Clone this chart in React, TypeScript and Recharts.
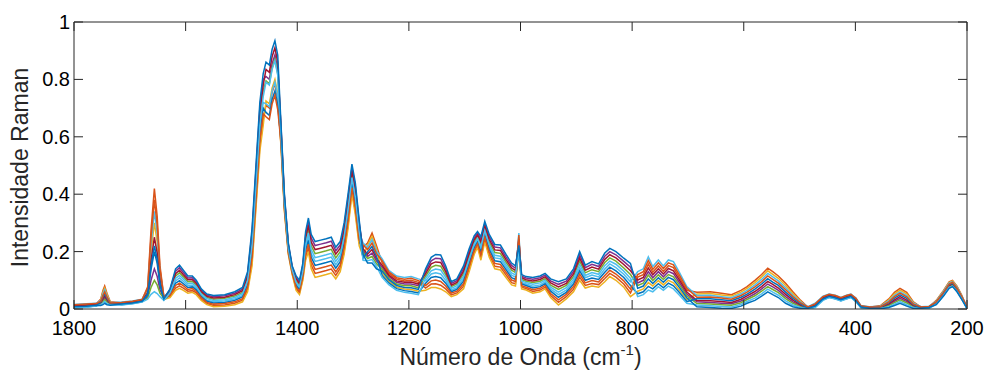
import React from 'react';
import { LineChart, Line, XAxis, YAxis, ReferenceLine } from 'recharts';

// Raman shift (cm^-1), descending as in the figure
const WAVENUMBER = [
  1800, 1778, 1760, 1752, 1748, 1745, 1741, 1735, 1715, 1695,
  1678, 1668, 1662, 1656, 1651, 1646, 1639, 1628, 1618, 1611,
  1604, 1596, 1588, 1581, 1572, 1562, 1550, 1530, 1512, 1498,
  1489, 1481, 1474, 1467, 1461, 1456, 1450, 1445, 1440, 1435,
  1429, 1423, 1416, 1409, 1402, 1396, 1390, 1385, 1380, 1375,
  1368, 1358, 1348, 1339, 1331, 1323, 1316, 1309, 1302, 1296,
  1289, 1282, 1274, 1266, 1258, 1248, 1236, 1222, 1208, 1196,
  1183, 1170, 1160, 1152, 1143, 1134, 1124, 1114, 1102, 1092,
  1083, 1077, 1071, 1064, 1056, 1046, 1036, 1026, 1016, 1009,
  1003, 998, 990, 978, 965, 956, 946, 932, 918, 905,
  894, 884, 872, 860, 849, 840, 829, 815, 803, 790,
  780, 771, 763, 753, 744, 735, 726, 716, 702, 684,
  660, 640, 622, 605, 594, 580, 568, 557, 548, 538,
  525, 512, 498, 485, 472, 458, 447, 436, 426, 416,
  408, 399, 390, 375, 355, 340, 330, 320, 308, 296,
  282, 268, 255, 242, 232, 226, 218, 210, 200,
];

const S1 = [
  .013, .015, .018, .035, .065, .080, .055, .025, .022, .026,
  .032, .077, .274, .42, .324, .151, .042, .043, .073, .081,
  .073, .062, .064, .056, .034, .019, .012, .014, .020, .031,
  .068, .164, .367, .569, .660, .71, .70, .755, .785, .735,
  .569, .347, .194, .123, .071, .056, .107, .181, .213, .153,
  .124, .129, .134, .139, .117, .142, .202, .293, .412, .342,
  .230, .217, .230, .265, .220, .161, .124, .104, .098, .100,
  .093, .073, .087, .088, .083, .070, .049, .056, .079, .139,
  .197, .221, .179, .242, .189, .149, .146, .119, .092, .088,
  .251, .076, .071, .061, .066, .076, .047, .023, .043, .069,
  .111, .082, .089, .085, .106, .124, .111, .087, .056, .111,
  .120, .156, .128, .150, .131, .151, .144, .112, .065, .058,
  .060, .055, .050, .065, .078, .100, .120, .142, .130, .115,
  .090, .060, .030, .006, .017, .042, .049, .045, .037, .045,
  .049, .035, .010, .006, .012, .035, .058, .072, .058, .025,
  .006, .008, .030, .065, .095, .100, .080, .050, .006,
];
const S2 = [
  .007, .009, .012, .032, .059, .073, .051, .024, .016, .020,
  .026, .062, .199, .30, .234, .115, .033, .040, .065, .072,
  .065, .055, .058, .050, .030, .015, .008, .010, .015, .025,
  .060, .150, .350, .550, .640, .725, .715, .77, .80, .75,
  .560, .340, .190, .120, .065, .050, .100, .170, .200, .140,
  .110, .115, .120, .125, .105, .130, .190, .280, .400, .330,
  .220, .183, .222, .253, .211, .124, .096, .076, .070, .068,
  .062, .065, .075, .075, .070, .060, .043, .050, .070, .130,
  .190, .215, .170, .234, .180, .140, .136, .110, .084, .080,
  .214, .070, .066, .055, .060, .070, .040, .014, .035, .060,
  .100, .073, .080, .076, .095, .113, .100, .076, .043, .062,
  .070, .092, .080, .099, .084, .100, .091, .068, .033, .052,
  .054, .049, .045, .059, .072, .092, .112, .133, .121, .107,
  .082, .054, .027, .002, .008, .033, .043, .038, .031, .038,
  .043, .028, .006, .002, .010, .032, .053, .066, .053, .022,
  .002, .004, .028, .063, .092, .098, .078, .048, .002,
];
const S3 = [
  .011, .013, .016, .020, .032, .040, .028, .017, .020, .024,
  .030, .043, .100, .140, .114, .067, .038, .067, .132, .144,
  .127, .108, .109, .094, .066, .048, .043, .046, .055, .069,
  .122, .266, .483, .701, .800, .81, .80, .855, .885, .835,
  .631, .393, .226, .147, .109, .094, .153, .259, .304, .247,
  .221, .226, .231, .236, .203, .223, .288, .387, .493, .428,
  .300, .203, .183, .195, .167, .146, .113, .093, .087, .087,
  .081, .132, .168, .177, .175, .140, .089, .099, .141, .201,
  .248, .264, .243, .297, .251, .216, .213, .181, .152, .142,
  .236, .114, .108, .104, .109, .118, .098, .086, .097, .131,
  .189, .144, .156, .148, .184, .200, .189, .166, .146, .091,
  .100, .130, .109, .130, .112, .131, .123, .094, .052, .025,
  .023, .020, .018, .028, .039, .053, .070, .087, .077, .065,
  .043, .025, .011, .004, .013, .038, .047, .042, .035, .042,
  .047, .032, .008, .004, .005, .015, .027, .037, .026, .010,
  .004, .006, .020, .052, .080, .085, .067, .040, .004,
];
const S4 = [
  .009, .011, .014, .017, .026, .033, .024, .016, .018, .022,
  .028, .038, .075, .100, .084, .055, .037, .060, .115, .126,
  .112, .095, .096, .083, .057, .040, .034, .037, .045, .058,
  .107, .237, .450, .663, .760, .795, .785, .84, .87, .82,
  .613, .380, .217, .140, .098, .083, .140, .237, .278, .220,
  .193, .198, .203, .208, .178, .200, .263, .360, .470, .403,
  .280, .197, .176, .183, .158, .139, .107, .087, .081, .081,
  .074, .115, .145, .152, .149, .120, .078, .087, .123, .183,
  .233, .252, .225, .281, .233, .197, .194, .163, .135, .127,
  .229, .103, .097, .092, .097, .106, .083, .068, .082, .113,
  .167, .126, .137, .130, .162, .178, .167, .143, .120, .082,
  .090, .118, .099, .119, .103, .120, .112, .086, .046, .019,
  .017, .015, .013, .022, .033, .046, .062, .078, .068, .057,
  .036, .020, .008, .004, .012, .037, .045, .041, .033, .041,
  .045, .031, .008, .004, .003, .012, .022, .032, .021, .007,
  .004, .006, .018, .049, .077, .083, .064, .038, .004,
];
const S5 = [
  .016, .018, .020, .030, .054, .067, .046, .022, .024, .028,
  .034, .067, .224, .340, .264, .127, .045, .053, .098, .108,
  .096, .082, .083, .072, .048, .031, .025, .028, .035, .047,
  .091, .208, .417, .626, .720, .715, .705, .76, .79, .74,
  .596, .367, .208, .133, .087, .072, .127, .214, .252, .193,
  .166, .171, .176, .181, .154, .177, .239, .333, .447, .379,
  .260, .230, .214, .242, .202, .175, .135, .115, .110, .113,
  .105, .098, .122, .126, .122, .100, .066, .074, .106, .166,
  .219, .239, .206, .266, .216, .178, .175, .146, .118, .111,
  .265, .092, .087, .079, .084, .094, .069, .050, .066, .096,
  .144, .109, .118, .112, .139, .157, .144, .121, .095, .130,
  .140, .182, .148, .171, .150, .171, .165, .130, .078, .047,
  .048, .043, .039, .053, .065, .084, .103, .124, .112, .098,
  .074, .048, .024, .008, .020, .045, .052, .048, .040, .048,
  .052, .038, .012, .008, .010, .028, .048, .060, .047, .020,
  .008, .010, .027, .061, .090, .095, .076, .047, .008,
];
const S6 = [
  .012, .014, .017, .022, .037, .047, .033, .018, .021, .025,
  .031, .056, .168, .250, .196, .100, .040, .063, .123, .135,
  .119, .102, .102, .089, .061, .044, .038, .041, .050, .064,
  .114, .251, .467, .682, .780, .835, .825, .88, .91, .86,
  .622, .387, .221, .143, .104, .089, .147, .248, .291, .233,
  .207, .212, .217, .222, .191, .212, .276, .373, .482, .416,
  .290, .210, .191, .207, .176, .153, .118, .098, .093, .094,
  .087, .123, .157, .164, .162, .130, .083, .093, .132, .192,
  .241, .258, .234, .289, .242, .206, .204, .172, .143, .134,
  .243, .109, .102, .098, .103, .112, .091, .077, .089, .122,
  .178, .135, .146, .139, .173, .189, .178, .155, .133, .101,
  .110, .143, .119, .140, .122, .141, .133, .103, .059, .030,
  .029, .026, .023, .034, .046, .061, .078, .096, .086, .073,
  .051, .031, .014, .005, .015, .040, .048, .044, .036, .044,
  .048, .034, .009, .005, .006, .018, .032, .043, .031, .012,
  .005, .007, .022, .054, .082, .088, .069, .042, .005,
];
const S7 = [
  .005, .007, .011, .025, .043, .053, .037, .020, .015, .019,
  .025, .053, .150, .220, .174, .091, .032, .050, .090, .099,
  .088, .075, .077, .067, .043, .027, .021, .023, .030, .042,
  .083, .193, .400, .607, .700, .685, .675, .73, .76, .71,
  .587, .360, .203, .130, .082, .067, .120, .203, .239, .180,
  .152, .157, .162, .167, .142, .165, .227, .320, .435, .367,
  .250, .177, .199, .218, .184, .117, .091, .071, .064, .061,
  .056, .090, .110, .113, .109, .090, .060, .068, .097, .157,
  .212, .233, .197, .258, .207, .168, .165, .137, .109, .103,
  .207, .087, .082, .073, .078, .088, .062, .041, .058, .087,
  .133, .100, .108, .103, .128, .146, .133, .110, .082, .053,
  .060, .079, .070, .088, .074, .090, .081, .059, .026, .036,
  .036, .032, .029, .041, .052, .069, .087, .106, .094, .082,
  .059, .037, .018, .001, .007, .032, .041, .036, .029, .036,
  .041, .026, .005, .001, .007, .022, .038, .049, .037, .015,
  .001, .003, .023, .056, .085, .090, .071, .043, .001,
];
const S8 = [
  .015, .017, .019, .027, .048, .060, .042, .021, .023, .027,
  .033, .072, .249, .380, .294, .139, .043, .047, .082, .090,
  .081, .068, .071, .061, .039, .023, .017, .019, .025, .036,
  .076, .179, .383, .588, .680, .67, .66, .715, .745, .695,
  .578, .353, .199, .127, .076, .061, .113, .192, .226, .167,
  .138, .143, .148, .153, .129, .153, .214, .307, .423, .354,
  .240, .223, .207, .230, .193, .168, .129, .109, .104, .107,
  .099, .082, .098, .101, .096, .080, .055, .062, .088, .148,
  .204, .227, .188, .250, .198, .159, .155, .128, .101, .096,
  .258, .081, .076, .067, .072, .082, .054, .032, .051, .078,
  .122, .091, .099, .094, .117, .135, .122, .098, .069, .120,
  .130, .169, .138, .161, .141, .161, .154, .121, .072, .041,
  .042, .038, .034, .047, .059, .077, .095, .115, .103, .090,
  .067, .043, .021, .007, .018, .043, .051, .047, .039, .047,
  .051, .037, .011, .007, .008, .025, .043, .055, .042, .017,
  .007, .009, .025, .058, .087, .093, .073, .045, .007,
];
const S9 = [
  .004, .006, .010, .015, .021, .027, .019, .014, .014, .018,
  .024, .034, .051, .060, .054, .043, .030, .057, .107, .117,
  .104, .088, .090, .078, .052, .036, .030, .032, .040, .053,
  .099, .222, .433, .644, .740, .79, .78, .835, .865, .815,
  .604, .373, .212, .137, .093, .078, .133, .226, .265, .207,
  .179, .184, .189, .194, .166, .188, .251, .347, .458, .391,
  .270, .170, .168, .172, .149, .110, .085, .065, .058, .055,
  .050, .107, .133, .139, .136, .110, .072, .081, .114, .174,
  .226, .246, .216, .273, .224, .187, .184, .154, .126, .119,
  .200, .098, .092, .086, .091, .100, .076, .059, .074, .104,
  .156, .117, .127, .121, .151, .167, .156, .132, .107, .043,
  .050, .066, .060, .078, .065, .080, .070, .050, .020, .014,
  .011, .009, .007, .016, .026, .038, .053, .069, .059, .048,
  .028, .014, .005, .000, .005, .030, .040, .035, .028, .035,
  .040, .025, .004, .000, .002, .008, .017, .026, .015, .005,
  .000, .002, .017, .047, .075, .080, .062, .037, .000,
];
const S10 = [
  .008, .010, .013, .012, .015, .020, .015, .013, .017, .021,
  .027, .050, .137, .200, .159, .085, .035, .070, .140, .153,
  .135, .115, .115, .100, .070, .052, .047, .050, .060, .075,
  .130, .280, .500, .720, .820, .86, .85, .905, .935, .885,
  .640, .400, .230, .150, .115, .100, .160, .270, .317, .260,
  .235, .240, .245, .250, .215, .235, .300, .400, .505, .440,
  .310, .190, .160, .160, .140, .132, .102, .082, .075, .074,
  .068, .140, .180, .190, .188, .150, .095, .105, .150, .210,
  .255, .270, .252, .305, .260, .225, .223, .190, .160, .150,
  .222, .120, .113, .110, .115, .124, .105, .095, .105, .140,
  .200, .153, .165, .157, .195, .211, .200, .177, .159, .072,
  .080, .105, .089, .109, .093, .110, .102, .077, .039, .008,
  .005, .003, .002, .010, .020, .030, .045, .060, .050, .040,
  .020, .008, .002, .003, .010, .035, .044, .039, .032, .039,
  .044, .029, .007, .003, .001, .005, .012, .020, .010, .002,
  .003, .005, .015, .045, .072, .078, .060, .035, .003,
];

const SERIES = [
  { key: 's1', color: '#D95319', values: S1 },
  { key: 's2', color: '#EDB120', values: S2 },
  { key: 's3', color: '#7E2F8E', values: S3 },
  { key: 's4', color: '#77AC30', values: S4 },
  { key: 's5', color: '#4DBEEE', values: S5 },
  { key: 's6', color: '#A2142F', values: S6 },
  { key: 's7', color: '#0072BD', values: S7 },
  { key: 's8', color: '#D95319', values: S8 },
  { key: 's9', color: '#4DBEEE', values: S9 },
  { key: 's10', color: '#0072BD', values: S10 },
];

const X_TICKS = [1800, 1600, 1400, 1200, 1000, 800, 600, 400, 200];
const Y_TICKS = [0, 0.2, 0.4, 0.6, 0.8, 1];
const X_TITLE = 'Número de Onda (cm';
const X_TITLE_SUP = '-1';
const X_TITLE_END = ')';
const Y_TITLE = 'Intensidade Raman';

const data = WAVENUMBER.map((w, i) => {
  const row: Record<string, number> = { w };
  SERIES.forEach((s) => {
    row[s.key] = s.values[i];
  });
  return row;
});

// layout
const W = 988;
const H = 370;
const PLOT_LEFT = 74;
const PLOT_RIGHT = 967;
const PLOT_TOP = 22;
const PLOT_BOTTOM = 309;
const TICK_LEN = 9;
const AXIS = '#262626';
const FONT = '"Liberation Sans", Arial, Helvetica, sans-serif';

function XTick(props: any) {
  const { x, payload } = props;
  return (
    <g>
      <line x1={x} x2={x} y1={PLOT_BOTTOM} y2={PLOT_BOTTOM - TICK_LEN} stroke={AXIS} strokeWidth={1} />
      <line x1={x} x2={x} y1={PLOT_TOP} y2={PLOT_TOP + TICK_LEN} stroke={AXIS} strokeWidth={1} />
      <text x={x} y={335} textAnchor="middle" fontSize={20} fontFamily={FONT} fill="#000">
        {payload.value}
      </text>
    </g>
  );
}

function fmtY(v: number) {
  if (v === 0) return '0';
  if (v === 1) return '1';
  return String(v);
}

function YTick(props: any) {
  const { y, payload } = props;
  return (
    <g>
      <line x1={PLOT_LEFT} x2={PLOT_LEFT + TICK_LEN} y1={y} y2={y} stroke={AXIS} strokeWidth={1} />
      <line x1={PLOT_RIGHT} x2={PLOT_RIGHT - TICK_LEN} y1={y} y2={y} stroke={AXIS} strokeWidth={1} />
      <text x={70} y={y + 7} textAnchor="end" fontSize={20} fontFamily={FONT} fill="#000">
        {fmtY(payload.value)}
      </text>
    </g>
  );
}

function XTitle() {
  return (
    <text x={(PLOT_LEFT + PLOT_RIGHT) / 2} y={365} textAnchor="middle" fontSize={23} fontFamily={FONT} fill={AXIS}>
      {X_TITLE}
      <tspan dy={-10} fontSize={15}>{X_TITLE_SUP}</tspan>
      <tspan dy={10}>{X_TITLE_END}</tspan>
    </text>
  );
}

function YTitle() {
  const cx = 28;
  const cy = (PLOT_TOP + PLOT_BOTTOM) / 2 + 2;
  return (
    <text
      x={cx}
      y={cy}
      transform={`rotate(-90, ${cx}, ${cy})`}
      textAnchor="middle"
      fontSize={23}
      fontFamily={FONT}
      fill={AXIS}
    >
      {Y_TITLE}
    </text>
  );
}

export default function App() {
  return (
    <div style={{ position: 'absolute', left: 0, top: 0, width: W, height: H, background: '#fff' }}>
      <LineChart
        width={W}
        height={H}
        data={data}
        margin={{ top: PLOT_TOP, right: W - PLOT_RIGHT, bottom: 31, left: 14 }}
      >
        <XAxis
          dataKey="w"
          type="number"
          domain={[200, 1800]}
          reversed
          ticks={X_TICKS}
          interval={0}
          height={30}
          tickLine={false}
          axisLine={{ stroke: AXIS, strokeWidth: 1 }}
          tick={XTick}
          allowDataOverflow
          label={{ content: () => <XTitle /> }}
        />
        <YAxis
          type="number"
          domain={[0, 1]}
          ticks={Y_TICKS}
          interval={0}
          width={60}
          tickLine={false}
          axisLine={{ stroke: AXIS, strokeWidth: 1 }}
          tick={YTick}
          allowDataOverflow
          label={{ content: () => <YTitle /> }}
        />
        <ReferenceLine x={200} stroke={AXIS} strokeWidth={1} />
        <ReferenceLine y={1} stroke={AXIS} strokeWidth={1} />
        {SERIES.map((s) => (
          <Line
            key={s.key}
            dataKey={s.key}
            stroke={s.color}
            strokeWidth={1.5}
            dot={false}
            activeDot={false}
            type="linear"
            isAnimationActive={false}
          />
        ))}
      </LineChart>
    </div>
  );
}
